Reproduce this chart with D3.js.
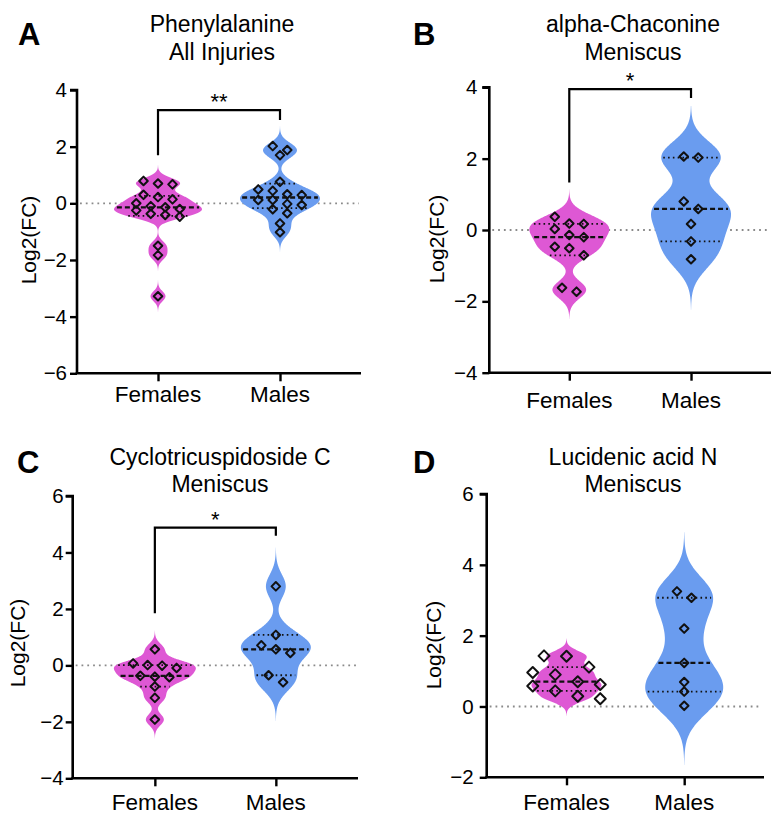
<!DOCTYPE html>
<html>
<head>
<meta charset="utf-8">
<script src="https://cdn.jsdelivr.net/npm/d3@7"></script>
<style>
  html, body { margin: 0; padding: 0; background: #ffffff; }
  svg { display: block; font-family: "Liberation Sans", Arial, Helvetica, sans-serif; }
</style>
</head>
<body>
<svg id="chart" width="772" height="814"></svg>
<script>
// ---------------- DATA ----------------
const groups = ["Females", "Males"];

// Panel A: Phenylalanine, All Injuries
const aTitle = ["Phenylalanine", "All Injuries"];
const aFemales = [0.79, 0.70, 0.67, 0.30, 0.22, 0.14, 0.00, -0.10, -0.14, -0.20, -0.25, -0.37, -0.41, -0.47, -1.50, -1.83, -3.28];
const aMales = [2.02, 1.88, 1.70, 0.76, 0.49, 0.44, 0.32, 0.29, 0.12, 0.12, -0.02, -0.06, -0.21, -0.35, -0.71, -1.02];
const aTicks = [-6, -4, -2, 0, 2, 4];
const aSig = "**";

// Panel B: alpha-Chaconine, Meniscus
const bTitle = ["alpha-Chaconine", "Meniscus"];
const bFemales = [0.37, 0.18, 0.17, 0.03, -0.14, -0.20, -0.47, -0.51, -0.71, -1.62, -1.73];
const bMales = [2.06, 2.03, 0.80, 0.59, 0.17, -0.32, -0.82];
const bTicks = [-4, -2, 0, 2, 4];
const bSig = "*";

// Panel C: Cyclotricuspidoside C, Meniscus
const cTitle = ["Cyclotricuspidoside C", "Meniscus"];
const cFemales = [0.57, 0.07, 0.01, -0.01, -0.09, -0.37, -0.40, -0.42, -0.75, -1.15, -1.92];
const cMales = [2.80, 1.08, 0.71, 0.57, 0.44, -0.35, -0.60];
const cTicks = [-4, -2, 0, 2, 4, 6];
const cSig = "*";

// Panel D: Lucidenic acid N, Meniscus
const dTitle = ["Lucidenic acid N", "Meniscus"];
const dFemales = [1.43, 1.42, 1.11, 0.96, 0.90, 0.70, 0.62, 0.58, 0.44, 0.29, 0.22];
const dMales = [3.25, 3.07, 2.20, 1.23, 0.69, 0.42, 0.02];
const dTicks = [-2, 0, 2, 4, 6];

const yLabel = "Log2(FC)";
const colors = ["#DE58D4", "#6A9CEF"];

// ---------------- LAYOUT (styling / geometry only) ----------------
const panels = [
  { letter: "A", title: aTitle, series: [aFemales, aMales], ticks: aTicks, sig: aSig,
    bracket: { bar: 3.29, left: 1.70, right: 2.94 },
    letterX: 18, letterY: 45, titleX: 222, titleY: [32, 60],
    left: 77, right: 361, yTop: 90, yBot: 373.3, pad: 0.664,
    tickGap: 10, xLabelY: 402, yLabelX: 28, yLabelY: 240,
    halfW: [44, 40], sym: [4.3, 4.3], spacing: [14.5, 14.5], bin: [7, 7] },
  { letter: "B", title: bTitle, series: [bFemales, bMales], ticks: bTicks, sig: bSig,
    bracket: { bar: 3.95, left: 1.33, right: 3.70 },
    letterX: 413, letterY: 45, titleX: 633, titleY: [32, 60],
    left: 489.3, right: 771, yTop: 87.3, yBot: 372.7, pad: 0.657,
    tickGap: 12, xLabelY: 408, yLabelX: 436, yLabelY: 239,
    halfW: [40, 40], sym: [4.3, 4.3], spacing: [14.5, 14.5], bin: [9, 9] },
  { letter: "C", title: cTitle, series: [cFemales, cMales], ticks: cTicks, sig: cSig,
    bracket: { bar: 4.88, left: 1.85, right: 4.59 },
    letterX: 17, letterY: 473, titleX: 220, titleY: [465, 492],
    left: 72.7, right: 358, yTop: 496, yBot: 778.3, pad: 0.679,
    tickGap: 9, xLabelY: 810, yLabelX: 17, yLabelY: 643,
    halfW: [41, 35], sym: [4.3, 4.3], spacing: [14.5, 14.5], bin: [7, 9] },
  { letter: "D", title: dTitle, series: [dFemales, dMales], ticks: dTicks, sig: null,
    bracket: null,
    letterX: 413, letterY: 473, titleX: 633, titleY: [465, 492],
    left: 486.7, right: 764, yTop: 494, yBot: 777.3, pad: 0.678,
    tickGap: 13, xLabelY: 810, yLabelX: 433.5, yLabelY: 645,
    halfW: [35, 39], sym: [5.5, 4.3], spacing: [22.5, 14.5], bin: [13, 7] }
];

// ---------------- HELPERS ----------------
// Quantile using the (n+1)p rule (as used by GraphPad Prism)
function quantileNp1(values, p) {
  const s = values.slice().sort((a, b) => a - b);
  const n = s.length;
  let pos = (n + 1) * p;
  if (pos <= 1) return s[0];
  if (pos >= n) return s[n - 1];
  const lo = Math.floor(pos), frac = pos - lo;
  return s[lo - 1] + frac * (s[lo] - s[lo - 1]);
}
function bandwidth(values) {
  const sd = d3.deviation(values);
  const iqr = quantileNp1(values, 0.75) - quantileNp1(values, 0.25);
  const s = Math.min(sd, iqr / 1.34);
  return 0.65 * 0.9 * s * Math.pow(values.length, -0.2);
}
function kde(values, h) {
  return v => d3.sum(values, x => Math.exp(-0.5 * ((v - x) / h) ** 2));
}
function layoutPoints(vals, y, spacing, binPx) {
  const sorted = vals.slice().sort((a, b) => b - a);
  const rows = [];
  let cur = null;
  sorted.forEach(v => {
    const py = y(v);
    if (!cur || py - cur.y0 > binPx) { cur = { y0: py, pts: [] }; rows.push(cur); }
    cur.pts.push(v);
  });
  const out = [];
  rows.forEach(r => {
    const k = r.pts.length;
    r.pts.forEach((v, j) => out.push({ v, dx: (j - (k - 1) / 2) * spacing }));
  });
  return out;
}
const diamond = r => `M0,${-r}L${r},0L0,${r}L${-r},0Z`;

// ---------------- DRAW ----------------
const svg = d3.select("#chart");
svg.append("rect").attr("width", 772).attr("height", 814).attr("fill", "#fff");

panels.forEach(P => {
  const g = svg.append("g");
  const dom = d3.extent(P.ticks);
  const y = d3.scaleLinear().domain(dom).range([P.yBot, P.yTop]);
  const x = d3.scalePoint().domain(groups).range([P.left, P.right]).padding(P.pad);

  // zero reference line
  g.append("line")
    .attr("x1", P.left + 3).attr("x2", P.right - 2)
    .attr("y1", y(0)).attr("y2", y(0))
    .attr("stroke", "#8a8a8a").attr("stroke-width", 1.8)
    .attr("stroke-dasharray", "1.8 4");

  // violins
  P.series.forEach((vals, gi) => {
    const cx = x(groups[gi]);
    const h = bandwidth(vals);
    const f = kde(vals, h);
    const lo = d3.min(vals) - 3.25 * h, hi = d3.max(vals) + 3.25 * h;
    const grid = d3.range(0, 301).map(i => lo + (hi - lo) * i / 300);
    const dens = grid.map(v => ({ v, d: f(v) }));
    const maxD = d3.max(dens, d => d.d);
    const w = d3.scaleLinear().domain([0, maxD]).range([0, P.halfW[gi]]);
    const area = d3.area()
      .y(d => y(d.v))
      .x0(d => cx - w(d.d))
      .x1(d => cx + w(d.d))
      .curve(d3.curveBasis);
    g.append("path").datum(dens).attr("d", area).attr("fill", colors[gi]);

    // median and quartiles
    const qs = [
      { q: quantileNp1(vals, 0.25), dash: "1.6 3.2", sw: 1.8 },
      { q: quantileNp1(vals, 0.75), dash: "1.6 3.2", sw: 1.8 },
      { q: quantileNp1(vals, 0.5), dash: "5 3", sw: 2.3 }
    ];
    qs.forEach(Q => {
      const hw = Math.max(0, w(f(Q.q)) - 2);
      g.append("line")
        .attr("x1", cx - hw).attr("x2", cx + hw)
        .attr("y1", y(Q.q)).attr("y2", y(Q.q))
        .attr("stroke", "#111").attr("stroke-width", Q.sw)
        .attr("stroke-dasharray", Q.dash);
    });

    // points
    const pts = layoutPoints(vals, y, P.spacing[gi], P.bin[gi]);
    g.selectAll(null).data(pts).enter().append("path")
      .attr("d", diamond(P.sym[gi]))
      .attr("transform", d => `translate(${cx + d.dx},${y(d.v)})`)
      .attr("fill", "none").attr("stroke", "#111").attr("stroke-width", 2)
      .attr("stroke-linejoin", "round");
  });

  // axes
  const yAxis = d3.axisLeft(y).tickValues(P.ticks).tickSize(7).tickPadding(P.tickGap - 7);
  const ya = g.append("g").attr("transform", `translate(${P.left},0)`).call(yAxis);
  ya.select(".domain").attr("stroke", "#000").attr("stroke-width", 2.6)
    .attr("d", `M-7,${P.yTop}H0V${P.yBot}`);
  ya.selectAll(".tick line").attr("stroke", "#000").attr("stroke-width", 2.4);
  ya.selectAll(".tick text").attr("fill", "#000").attr("font-size", 20.5)
    .attr("font-family", "Liberation Sans, Arial, sans-serif");

  const xAxis = d3.axisBottom(x).tickSize(8).tickFormat(() => "");
  const xa = g.append("g").attr("transform", `translate(0,${P.yBot})`).call(xAxis);
  xa.select(".domain").attr("stroke", "#000").attr("stroke-width", 2.6)
    .attr("d", `M${P.left - 1.3},0H${P.right}`);
  xa.selectAll(".tick line").attr("stroke", "#000").attr("stroke-width", 2.4);

  g.selectAll(null).data(groups).enter().append("text")
    .attr("x", d => x(d)).attr("y", P.xLabelY)
    .attr("text-anchor", "middle").attr("font-size", 22.5).attr("fill", "#000")
    .text(d => d);

  // y label
  g.append("text")
    .attr("transform", `translate(${P.yLabelX},${P.yLabelY}) rotate(-90)`)
    .attr("text-anchor", "middle").attr("dominant-baseline", "central")
    .attr("font-size", 21).attr("fill", "#000").text(yLabel);

  // title
  P.title.forEach((t, i) => {
    g.append("text").attr("x", P.titleX).attr("y", P.titleY[i])
      .attr("text-anchor", "middle").attr("font-size", 23).attr("fill", "#000").text(t);
  });

  // panel letter
  g.append("text").attr("x", P.letterX).attr("y", P.letterY)
    .attr("font-size", 31).attr("font-weight", "bold").attr("fill", "#000").text(P.letter);

  // significance bracket
  if (P.bracket) {
    const B = P.bracket;
    const x1 = x(groups[0]), x2 = x(groups[1]);
    g.append("path")
      .attr("d", `M${x1},${y(B.left)}V${y(B.bar)}H${x2}V${y(B.right)}`)
      .attr("fill", "none").attr("stroke", "#000").attr("stroke-width", 2.2);
    g.append("text").attr("x", (x1 + x2) / 2).attr("y", y(B.bar) - 1)
      .attr("text-anchor", "middle").attr("font-size", 22).attr("fill", "#000").text(P.sig);
  }
});
</script>
</body>
</html>
